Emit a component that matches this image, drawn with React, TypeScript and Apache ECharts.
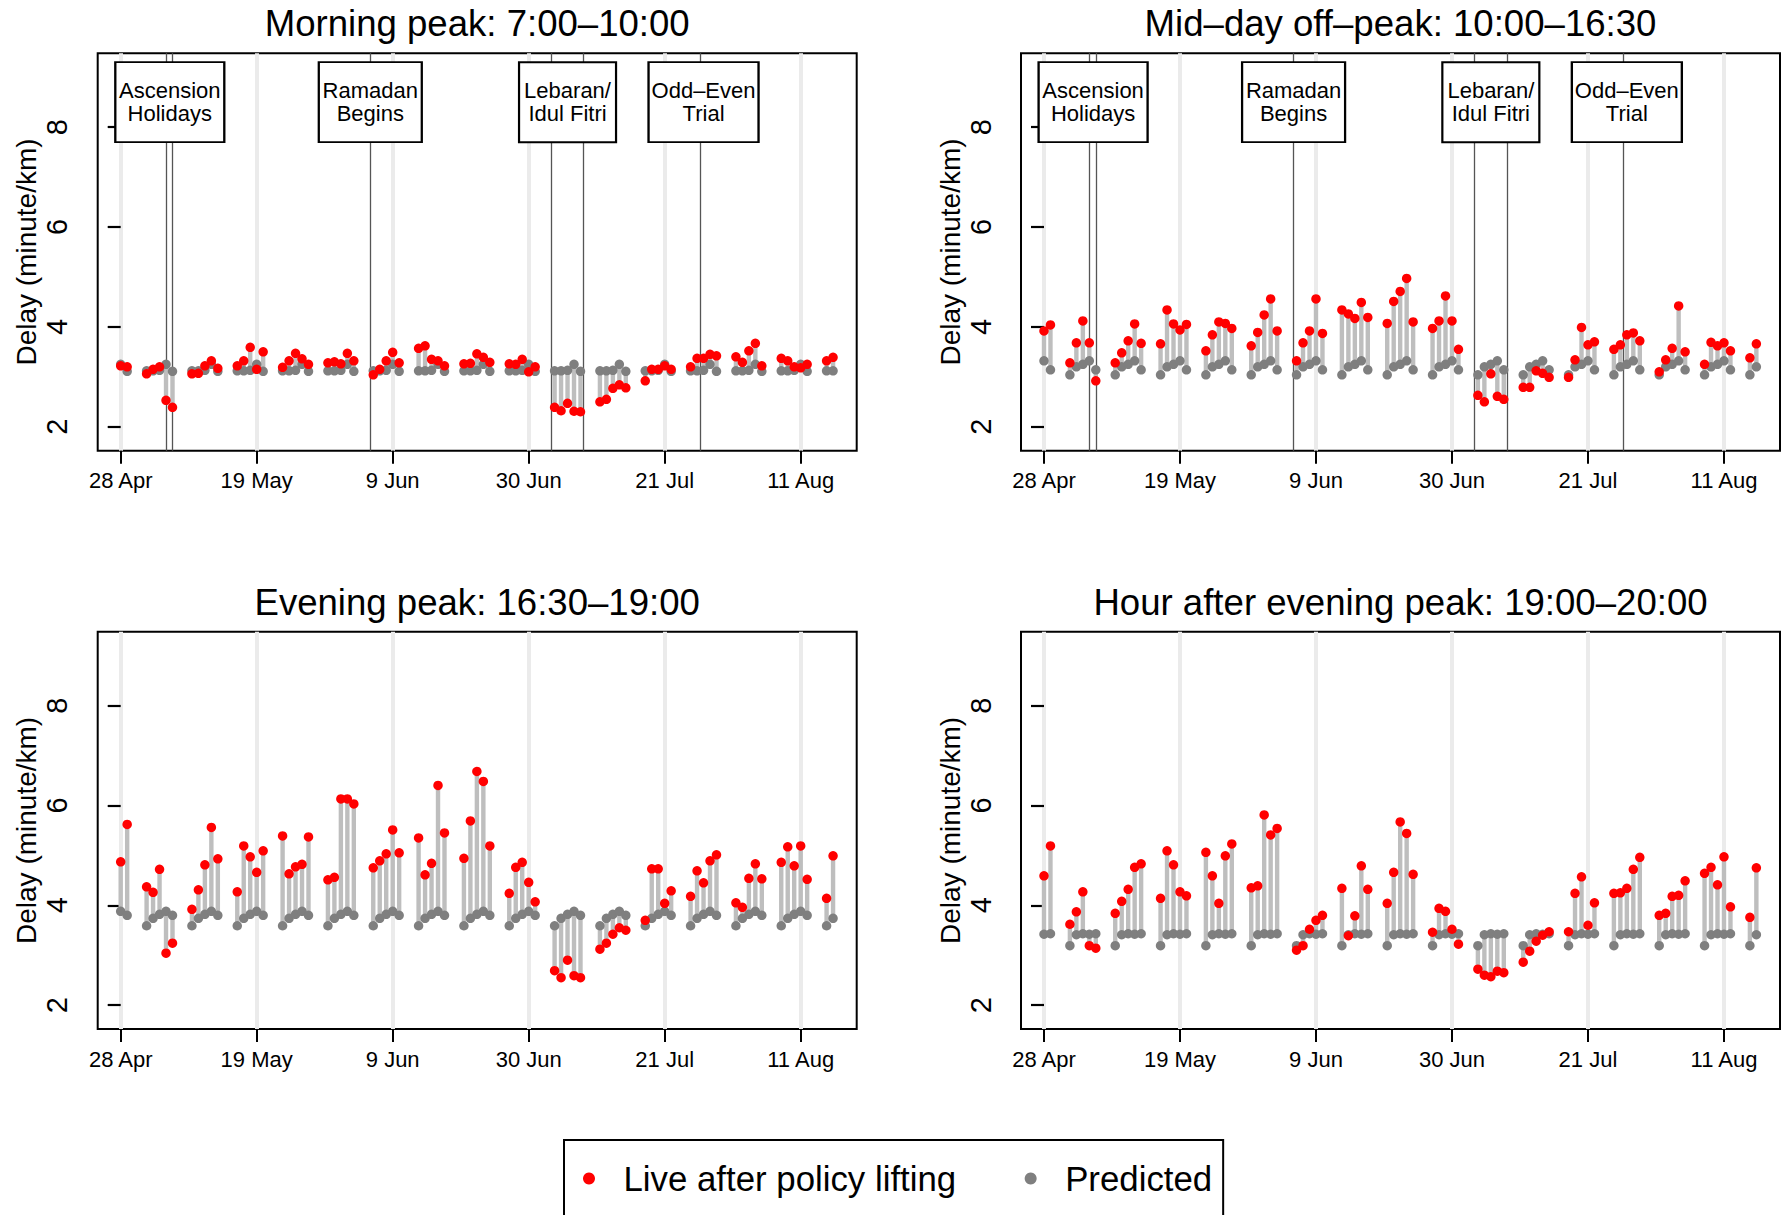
import { useEffect, useRef } from 'react';
import * as echarts from 'echarts';

const FONT = '"Liberation Sans", Arial, Helvetica, sans-serif';

// Weekday observation dates (2016)
const dates = [
  '2016-04-28', '2016-04-29',
  '2016-05-02', '2016-05-03', '2016-05-04', '2016-05-05', '2016-05-06',
  '2016-05-09', '2016-05-10', '2016-05-11', '2016-05-12', '2016-05-13',
  '2016-05-16', '2016-05-17', '2016-05-18', '2016-05-19', '2016-05-20',
  '2016-05-23', '2016-05-24', '2016-05-25', '2016-05-26', '2016-05-27',
  '2016-05-30', '2016-05-31', '2016-06-01', '2016-06-02', '2016-06-03',
  '2016-06-06', '2016-06-07', '2016-06-08', '2016-06-09', '2016-06-10',
  '2016-06-13', '2016-06-14', '2016-06-15', '2016-06-16', '2016-06-17',
  '2016-06-20', '2016-06-21', '2016-06-22', '2016-06-23', '2016-06-24',
  '2016-06-27', '2016-06-28', '2016-06-29', '2016-06-30', '2016-07-01',
  '2016-07-04', '2016-07-05', '2016-07-06', '2016-07-07', '2016-07-08',
  '2016-07-11', '2016-07-12', '2016-07-13', '2016-07-14', '2016-07-15',
  '2016-07-18', '2016-07-19', '2016-07-20', '2016-07-21', '2016-07-22',
  '2016-07-25', '2016-07-26', '2016-07-27', '2016-07-28', '2016-07-29',
  '2016-08-01', '2016-08-02', '2016-08-03', '2016-08-04', '2016-08-05',
  '2016-08-08', '2016-08-09', '2016-08-10', '2016-08-11', '2016-08-12',
  '2016-08-15', '2016-08-16',
];

const panelTitles = [
  'Morning peak: 7:00–10:00',
  'Mid–day off–peak: 10:00–16:30',
  'Evening peak: 16:30–19:00',
  'Hour after evening peak: 19:00–20:00',
];

// Morning peak
const liveMorning = [
  3.22, 3.20,
  3.06, 3.15, 3.20, 2.53, 2.39,
  3.06, 3.07, 3.22, 3.32, 3.17,
  3.22, 3.32, 3.59, 3.15, 3.50,
  3.19, 3.32, 3.47, 3.36, 3.25,
  3.28, 3.30, 3.26, 3.47, 3.32,
  3.04, 3.15, 3.32, 3.49, 3.28,
  3.57, 3.62, 3.35, 3.32, 3.22,
  3.26, 3.27, 3.46, 3.39, 3.29,
  3.26, 3.25, 3.35, 3.10, 3.20,
  2.39, 2.32, 2.47, 2.31, 2.30,
  2.50, 2.55, 2.77, 2.84, 2.78,
  2.92, 3.15, 3.15, 3.22, 3.15,
  3.20, 3.37, 3.37, 3.45, 3.42,
  3.40, 3.29, 3.52, 3.67, 3.22,
  3.37, 3.32, 3.20, 3.18, 3.25,
  3.32, 3.39,
];
const predMorning = [
  3.25, 3.11,
  3.12, 3.12, 3.13, 3.25, 3.11,
  3.12, 3.12, 3.13, 3.25, 3.11,
  3.12, 3.12, 3.13, 3.25, 3.11,
  3.12, 3.12, 3.13, 3.25, 3.11,
  3.12, 3.12, 3.13, 3.25, 3.11,
  3.12, 3.12, 3.13, 3.25, 3.11,
  3.12, 3.12, 3.13, 3.25, 3.11,
  3.12, 3.12, 3.13, 3.25, 3.11,
  3.12, 3.12, 3.13, 3.25, 3.11,
  3.12, 3.12, 3.13, 3.25, 3.11,
  3.12, 3.12, 3.13, 3.25, 3.11,
  3.12, 3.12, 3.13, 3.25, 3.11,
  3.12, 3.12, 3.13, 3.25, 3.11,
  3.12, 3.12, 3.13, 3.25, 3.11,
  3.12, 3.12, 3.13, 3.25, 3.11,
  3.12, 3.12,
];

// Mid-day off-peak
const liveMidday = [
  3.92, 4.04,
  3.28, 3.68, 4.12, 3.68, 2.92,
  3.28, 3.48, 3.72, 4.06, 3.67,
  3.66, 4.34, 4.06, 3.94, 4.05,
  3.52, 3.84, 4.10, 4.07, 3.97,
  3.62, 3.89, 4.24, 4.56, 3.92,
  3.32, 3.68, 3.92, 4.56, 3.87,
  4.34, 4.26, 4.17, 4.49, 4.19,
  4.07, 4.51, 4.71, 4.97, 4.10,
  3.97, 4.12, 4.62, 4.12, 3.55,
  2.63, 2.50, 3.06, 2.61, 2.55,
  2.79, 2.79, 3.12, 3.07, 2.99,
  2.99, 3.34, 3.99, 3.64, 3.70,
  3.55, 3.64, 3.84, 3.88, 3.72,
  3.10, 3.34, 3.57, 4.42, 3.50,
  3.25, 3.69, 3.62, 3.68, 3.52,
  3.38, 3.66,
];
const predMidday = [
  3.32, 3.14,
  3.04, 3.20, 3.25, 3.32, 3.14,
  3.04, 3.20, 3.25, 3.32, 3.14,
  3.04, 3.20, 3.25, 3.32, 3.14,
  3.04, 3.20, 3.25, 3.32, 3.14,
  3.04, 3.20, 3.25, 3.32, 3.14,
  3.04, 3.20, 3.25, 3.32, 3.14,
  3.04, 3.20, 3.25, 3.32, 3.14,
  3.04, 3.20, 3.25, 3.32, 3.14,
  3.04, 3.20, 3.25, 3.32, 3.14,
  3.04, 3.20, 3.25, 3.32, 3.14,
  3.04, 3.20, 3.25, 3.32, 3.14,
  3.04, 3.20, 3.25, 3.32, 3.14,
  3.04, 3.20, 3.25, 3.32, 3.14,
  3.04, 3.20, 3.25, 3.32, 3.14,
  3.04, 3.20, 3.25, 3.32, 3.14,
  3.04, 3.20,
];

// Evening peak
const liveEvening = [
  4.87, 5.62,
  4.37, 4.26, 4.72, 3.04, 3.24,
  3.92, 4.31, 4.81, 5.56, 4.93,
  4.27, 5.19, 4.97, 4.66, 5.09,
  5.39, 4.63, 4.77, 4.82, 5.37,
  4.51, 4.56, 6.13, 6.13, 6.03,
  4.75, 4.89, 5.03, 5.51, 5.05,
  5.35, 4.61, 4.84, 6.40, 5.45,
  4.94, 5.69, 6.68, 6.48, 5.19,
  4.24, 4.76, 4.86, 4.46, 4.07,
  2.69, 2.55, 2.90, 2.59, 2.55,
  3.12, 3.24, 3.42, 3.55, 3.50,
  3.70, 4.73, 4.73, 4.04, 4.29,
  4.18, 4.69, 4.45, 4.89, 5.01,
  4.05, 3.96, 4.54, 4.83, 4.53,
  4.86, 5.17, 4.79, 5.19, 4.52,
  4.14, 4.99,
];
const predEvening = [
  3.88, 3.80,
  3.59, 3.74, 3.82, 3.88, 3.80,
  3.59, 3.74, 3.82, 3.88, 3.80,
  3.59, 3.74, 3.82, 3.88, 3.80,
  3.59, 3.74, 3.82, 3.88, 3.80,
  3.59, 3.74, 3.82, 3.88, 3.80,
  3.59, 3.74, 3.82, 3.88, 3.80,
  3.59, 3.74, 3.82, 3.88, 3.80,
  3.59, 3.74, 3.82, 3.88, 3.80,
  3.59, 3.74, 3.82, 3.88, 3.80,
  3.59, 3.74, 3.82, 3.88, 3.80,
  3.59, 3.74, 3.82, 3.88, 3.80,
  3.59, 3.74, 3.82, 3.88, 3.80,
  3.59, 3.74, 3.82, 3.88, 3.80,
  3.59, 3.74, 3.82, 3.88, 3.80,
  3.59, 3.74, 3.82, 3.88, 3.80,
  3.59, 3.74,
];

// Hour after evening peak
const liveAfter = [
  4.59, 5.19,
  3.62, 3.87, 4.27, 3.19, 3.14,
  3.84, 4.08, 4.32, 4.76, 4.83,
  4.14, 5.09, 4.81, 4.27, 4.19,
  5.06, 4.59, 4.04, 4.99, 5.23,
  4.35, 4.39, 5.81, 5.41, 5.54,
  3.10, 3.19, 3.52, 3.70, 3.80,
  4.34, 3.39, 3.79, 4.79, 4.32,
  4.04, 4.66, 5.67, 5.44, 4.62,
  3.46, 3.94, 3.88, 3.52, 3.22,
  2.72, 2.60, 2.57, 2.68, 2.65,
  2.86, 3.08, 3.28, 3.40, 3.47,
  3.47, 4.24, 4.57, 3.60, 4.05,
  4.24, 4.25, 4.34, 4.72, 4.96,
  3.80, 3.84, 4.18, 4.20, 4.49,
  4.64, 4.76, 4.41, 4.97, 3.97,
  3.76, 4.75,
];
const predAfter = [
  3.42, 3.43,
  3.19, 3.41, 3.43, 3.42, 3.43,
  3.19, 3.41, 3.43, 3.42, 3.43,
  3.19, 3.41, 3.43, 3.42, 3.43,
  3.19, 3.41, 3.43, 3.42, 3.43,
  3.19, 3.41, 3.43, 3.42, 3.43,
  3.19, 3.41, 3.43, 3.42, 3.43,
  3.19, 3.41, 3.43, 3.42, 3.43,
  3.19, 3.41, 3.43, 3.42, 3.43,
  3.19, 3.41, 3.43, 3.42, 3.43,
  3.19, 3.41, 3.43, 3.42, 3.43,
  3.19, 3.41, 3.43, 3.42, 3.43,
  3.19, 3.41, 3.43, 3.42, 3.43,
  3.19, 3.41, 3.43, 3.42, 3.43,
  3.19, 3.41, 3.43, 3.42, 3.43,
  3.19, 3.41, 3.43, 3.42, 3.43,
  3.19, 3.41,
];

const xTickDates = ['2016-04-28', '2016-05-19', '2016-06-09', '2016-06-30', '2016-07-21', '2016-08-11'];
const xTickLabels = ['28 Apr', '19 May', '9 Jun', '30 Jun', '21 Jul', '11 Aug'];
const yTicks = [2, 4, 6, 8];

const eventLineDates = [
  '2016-05-05T00:00', '2016-05-06T00:00', '2016-06-05T12:00',
  '2016-07-03T12:00', '2016-07-08T12:00', '2016-07-26T10:00',
];
const eventBoxDates = ['2016-05-05T14:00', '2016-06-05T13:00', '2016-07-06T00:00', '2016-07-27T00:00'];
const eventLabels = ['Ascension\nHolidays', 'Ramadan\nBegins', 'Lebaran/\nIdul Fitri', 'Odd–Even\nTrial'];
const eventBoxLevel = 8.5;

const LIVE_NAME = 'Live after policy lifting';
const PRED_NAME = 'Predicted';

// ---- helpers / layout ----
const ORIGIN = Date.UTC(2016, 3, 28);
function toDay(s: string): number {
  const [dp, tp] = s.split('T');
  const [y, m, d] = dp.split('-').map(Number);
  const [hh, mm] = tp ? tp.split(':').map(Number) : [0, 0];
  return (Date.UTC(y, m - 1, d, hh, mm) - ORIGIN) / 86400000;
}

const GRID_LEFT = [97.7, 1021, 97.7, 1021];
const GRID_TOP = [53.3, 53.3, 631.7, 631.7];
const GRID_W = 759;
const GRID_H = 397.4;
const TITLE_TOP = [5, 5, 584, 584];
const BOX_SIZES = [[109, 80], [103, 80], [97, 80], [110, 80]];

function buildOption() {
  const days = dates.map(toDay);
  const xTickDays = xTickDates.map(toDay);
  const lineDays = eventLineDates.map(toDay);
  const boxDays = eventBoxDates.map(toDay);
  const lives = [liveMorning, liveMidday, liveEvening, liveAfter];
  const preds = [predMorning, predMidday, predEvening, predAfter];

  const xFormatter = (v: number) => {
    const k = xTickDays.findIndex((t) => Math.abs(t - v) < 0.01);
    return k >= 0 ? xTickLabels[k] : '';
  };

  const grid = [0, 1, 2, 3].map((i) => ({
    left: GRID_LEFT[i],
    top: GRID_TOP[i],
    width: GRID_W,
    height: GRID_H,
    show: true,
    borderColor: '#000',
    borderWidth: 2,
    backgroundColor: 'transparent',
    containLabel: false,
    outerBoundsMode: 'none',
  }));

  const xAxis = [0, 1, 2, 3].map((i) => ({
    type: 'value',
    gridIndex: i,
    min: -3.55,
    max: 113.65,
    axisLine: { show: false },
    axisTick: {
      show: true,
      length: 13,
      customValues: xTickDays,
      lineStyle: { color: '#000', width: 2 },
    },
    axisLabel: {
      show: true,
      customValues: xTickDays,
      formatter: xFormatter,
      fontSize: 22,
      fontFamily: FONT,
      color: '#000',
      margin: 19,
    },
    splitLine: { show: true, lineStyle: { color: '#ebebeb', width: 4 } },
  }));

  const yAxis = [0, 1, 2, 3].map((i) => ({
    type: 'value',
    gridIndex: i,
    min: 1.52,
    max: 9.48,
    axisLine: { show: false },
    axisTick: {
      show: true,
      length: 13,
      customValues: yTicks,
      lineStyle: { color: '#000', width: 2.2 },
    },
    axisLabel: {
      show: true,
      customValues: yTicks,
      rotate: 90,
      fontSize: 29,
      fontFamily: FONT,
      color: '#000',
      margin: 26,
    },
    splitLine: { show: false },
    name: 'Delay (minute/km)',
    nameLocation: 'middle',
    nameGap: 57,
    nameTextStyle: { fontSize: 28, fontFamily: FONT, color: '#000' },
  }));

  const series: any[] = [];
  for (let i = 0; i < 4; i++) {
    const live = lives[i];
    const pred = preds[i];
    series.push({
      type: 'custom',
      coordinateSystem: 'cartesian2d',
      xAxisIndex: i,
      yAxisIndex: i,
      silent: true,
      z: 2,
      encode: { x: 0, y: [1, 2] },
      data: days.map((d, k) => [d, pred[k], live[k]]),
      renderItem: (params: any, api: any) => {
        const a = api.coord([api.value(0), api.value(1)]);
        const b = api.coord([api.value(0), api.value(2)]);
        return {
          type: 'line',
          shape: { x1: a[0], y1: a[1], x2: b[0], y2: b[1] },
          style: { stroke: '#bebebe', lineWidth: 4.4 },
        };
      },
    });
    const predSeries: any = {
      type: 'scatter',
      name: PRED_NAME,
      xAxisIndex: i,
      yAxisIndex: i,
      z: 3,
      symbol: 'circle',
      symbolSize: 9.5,
      itemStyle: { color: '#7f7f7f', opacity: 1 },
      silent: true,
      data: days.map((d, k) => [d, pred[k]]),
    };
    if (i < 2) {
      predSeries.markLine = {
        z: 1,
        silent: true,
        symbol: ['none', 'none'],
        label: { show: false },
        lineStyle: { color: '#555', width: 1.3, type: 'solid', opacity: 1 },
        emphasis: { disabled: true },
        data: lineDays.map((d) => ({ xAxis: d })),
      };
      predSeries.markPoint = {
        z: 10,
        silent: true,
        symbol: 'rect',
        itemStyle: { color: '#fff', borderColor: '#000', borderWidth: 2, opacity: 1 },
        label: {
          show: true,
          position: 'inside',
          formatter: '{b}',
          fontSize: 22,
          lineHeight: 22.5,
          fontFamily: FONT,
          color: '#000',
        },
        emphasis: { disabled: true },
        data: boxDays.map((d, j) => ({
          name: eventLabels[j],
          coord: [d, eventBoxLevel],
          symbolSize: BOX_SIZES[j],
        })),
      };
    }
    series.push(predSeries);
    series.push({
      type: 'scatter',
      name: LIVE_NAME,
      xAxisIndex: i,
      yAxisIndex: i,
      z: 4,
      symbol: 'circle',
      symbolSize: 9.5,
      itemStyle: { color: '#ff0000', opacity: 1 },
      silent: true,
      data: days.map((d, k) => [d, live[k]]),
    });
  }

  const title = panelTitles.map((t, i) => ({
    text: t,
    left: GRID_LEFT[i] + GRID_W / 2,
    top: TITLE_TOP[i],
    textAlign: 'center',
    padding: 0,
    textStyle: { fontSize: 36.6, fontWeight: 'normal', fontFamily: FONT, color: '#000' },
  }));

  return {
    animation: false,
    backgroundColor: '#fff',
    textStyle: { fontFamily: FONT },
    title,
    grid,
    xAxis,
    yAxis,
    legend: {
      show: true,
      data: [LIVE_NAME, PRED_NAME],
      orient: 'horizontal',
      left: 564,
      top: 1140,
      padding: [21, 11, 60, 19],
      itemGap: 68.5,
      itemWidth: 14,
      itemHeight: 12,
      icon: 'circle',
      selectedMode: false,
      borderColor: '#000',
      borderWidth: 2,
      backgroundColor: '#fff',
      textStyle: { fontSize: 34.8, fontFamily: FONT, color: '#000', padding: [0, 0, 0, 22.5] },
    },
    series,
  };
}

export default function App() {
  const ref = useRef<HTMLDivElement>(null);
  useEffect(() => {
    const chart = echarts.init(ref.current as HTMLDivElement, null, { renderer: 'svg' });
    chart.setOption(buildOption() as any);
    return () => chart.dispose();
  }, []);
  return (
    <div
      ref={ref}
      style={{ position: 'fixed', left: 0, top: 0, width: 1787, height: 1215, background: '#fff' }}
    />
  );
}
